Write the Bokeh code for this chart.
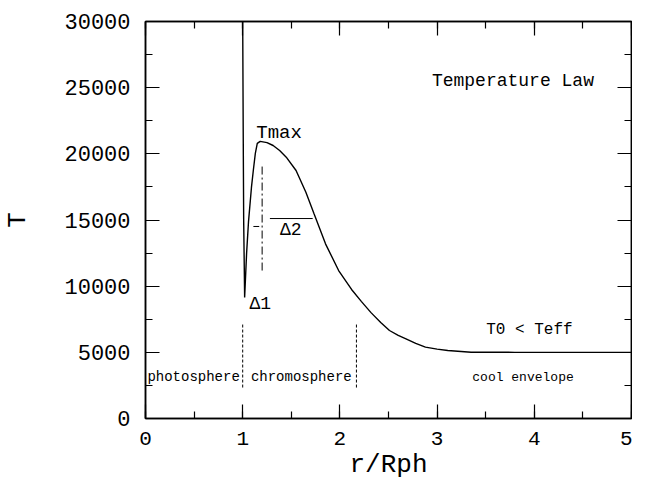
from bokeh.plotting import figure
from bokeh.models import Range1d, SingleIntervalTicker, LinearAxis, Label, CustomJSTickFormatter
from bokeh.embed import file_html
from bokeh.resources import INLINE

# Temperature law curve (r/Rph, T)
r_vals = [1.00, 1.005, 1.01, 1.02, 1.04, 1.06, 1.09, 1.11, 1.13, 1.15, 1.18,
          1.25, 1.313, 1.38, 1.448, 1.549, 1.65, 1.734, 1.852, 1.987, 2.12, 2.22, 2.32,
          2.42, 2.51, 2.60, 2.68, 2.78, 2.88, 3.00, 3.11, 3.35, 3.80, 4.30, 5.00]
T_vals = [30000, 22000, 15000, 9150, 12470, 14900, 17460, 18800, 20030, 20790, 20940,
          20850, 20630, 20250, 19750, 18740, 17100, 15470, 13200, 11180, 9750, 8850, 8000,
          7250, 6650, 6280, 6020, 5680, 5390, 5240, 5140, 5010, 5000, 5000, 5000]

# region boundaries (dashed)
boundary_x = [1.0, 2.17]
boundary_y0 = 2340
boundary_y1 = 7250

# Δ markers
d1_x = [1.2, 1.2]
d1_y = [11180, 19120]
tick_x = [1.11, 1.17]
tick_y = [14510, 14510]
d2_x = [1.28, 1.72]
d2_y = [15110, 15110]

x_ticks_interval = 1
y_ticks_interval = 5000

FONT = "Liberation Mono"

p = figure(width=632, height=486, output_backend="svg", toolbar_location=None,
           x_range=Range1d(0, 5), y_range=Range1d(0, 30000),
           min_border_left=142, min_border_right=1, min_border_top=21, min_border_bottom=68,
           x_axis_label="r/Rph", y_axis_label="T")
p.grid.visible = False
p.outline_line_color = "black"
p.outline_line_width = 1.5
p.background_fill_color = "white"

p.xaxis.ticker = SingleIntervalTicker(interval=x_ticks_interval, num_minor_ticks=2)
p.yaxis.ticker = SingleIntervalTicker(interval=y_ticks_interval, num_minor_ticks=2)

for ax in (p.xaxis[0], p.yaxis[0]):
    ax.major_tick_in = 14
    ax.major_tick_out = 0
    ax.minor_tick_in = 7
    ax.minor_tick_out = 0
    ax.axis_line_color = "black"
    ax.axis_line_width = 1.5
    ax.major_tick_line_width = 1.2
    ax.minor_tick_line_width = 1.2
    ax.major_label_text_font = FONT
    ax.major_label_text_color = "black"
    ax.axis_label_text_font = FONT
    ax.axis_label_text_font_size = "26px"
    ax.axis_label_text_font_style = "normal"
    ax.axis_label_text_color = "black"

p.xaxis[0].major_label_text_font_size = "21px"
p.yaxis[0].major_label_text_font_size = "22px"
p.xaxis[0].major_label_standoff = 13
p.xaxis[0].axis_label_standoff = 2
p.yaxis[0].major_label_standoff = 15
p.yaxis[0].axis_label_standoff = 28

# mirrored axes (top and right) with inward ticks and no labels
top = LinearAxis(ticker=SingleIntervalTicker(interval=x_ticks_interval, num_minor_ticks=2),
                 formatter=CustomJSTickFormatter(code="return ''"))
right = LinearAxis(ticker=SingleIntervalTicker(interval=y_ticks_interval, num_minor_ticks=2),
                   formatter=CustomJSTickFormatter(code="return ''"))
for ax in (top, right):
    ax.major_tick_in = 14
    ax.major_tick_out = 0
    ax.minor_tick_in = 7
    ax.minor_tick_out = 0
    ax.major_label_standoff = 0
    ax.axis_line_color = "black"
    ax.axis_line_width = 1.5
    ax.major_tick_line_width = 1.2
    ax.minor_tick_line_width = 1.2
p.add_layout(top, "above")
p.add_layout(right, "right")

# curve
p.line(r_vals, T_vals, line_color="black", line_width=1.4)

# boundaries
for bx in boundary_x:
    p.line([bx, bx], [boundary_y0, boundary_y1], line_color="black", line_width=1, line_dash="3 2")

p.line(d1_x, d1_y, line_color="black", line_width=1, line_dash="8 3 2 3")
p.line(tick_x, tick_y, line_color="black", line_width=1)
p.line(d2_x, d2_y, line_color="black", line_width=1)

def lab(x, y, t, size, align="center", base="middle"):
    p.add_layout(Label(x=x, y=y, text=t, text_font=FONT, text_font_size=size,
                       text_align=align, text_baseline=base, text_color="black"))

lab(3.78, 25540, "Temperature Law", "18px")
lab(1.14, 21540, "Tmax", "19px", align="left", base="alphabetic")
lab(1.18, 8690, "Δ1", "18px")
lab(1.495, 14210, "Δ2", "18px")
lab(3.95, 6725, "T0 < Teff", "16px")
lab(0.495, 3100, "photosphere", "14px")
lab(1.603, 3100, "chromosphere", "14px")
lab(3.884, 3100, "cool envelope", "13px")

open("out.html", "w").write(file_html(p, INLINE))
